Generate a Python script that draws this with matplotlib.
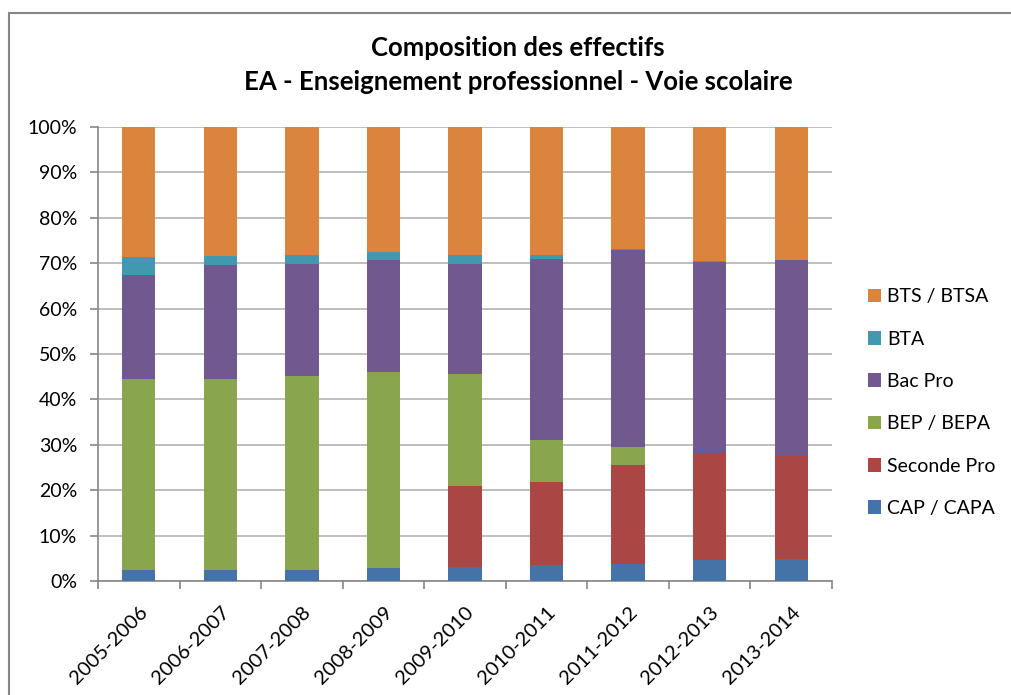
import matplotlib.pyplot as plt
import matplotlib.patches as mpatches
import numpy as np

plt.rcParams['font.family'] = ['Lato', 'DejaVu Sans']

annees = ['2005-2006', '2006-2007', '2007-2008', '2008-2009', '2009-2010',
          '2010-2011', '2011-2012', '2012-2013', '2013-2014']

# parts en % par filiere (de bas en haut)
cap_capa = [2.4, 2.4, 2.4, 2.9, 3.0, 3.5, 3.8, 4.6, 4.8]
seconde_pro = [0.0, 0.0, 0.0, 0.0, 18.0, 18.2, 21.8, 23.5, 23.0]
bep_bepa = [42.2, 42.2, 42.7, 43.1, 24.7, 9.3, 4.0, 0.0, 0.0]
bac_pro = [22.7, 25.0, 24.7, 24.6, 24.1, 39.9, 43.2, 42.2, 42.8]
bta = [4.0, 2.0, 2.0, 1.9, 2.0, 0.9, 0.3, 0.1, 0.0]
bts_btsa = [28.7, 28.4, 28.2, 27.5, 28.2, 28.2, 26.9, 29.6, 29.4]

series = [
    ('CAP / CAPA', cap_capa, '#4572A7'),
    ('Seconde Pro', seconde_pro, '#AA4643'),
    ('BEP / BEPA', bep_bepa, '#89A54E'),
    ('Bac Pro', bac_pro, '#71588F'),
    ('BTA', bta, '#4198AF'),
    ('BTS / BTSA', bts_btsa, '#DB843D'),
]

W, H = 1011, 695
fig = plt.figure(figsize=(W / 100, H / 100), dpi=100)

# cadre du graphique
fig.patches.append(mpatches.Rectangle((9 / W, -0.1), 1.2, 1 - 13 / H + 0.1,
                                      transform=fig.transFigure, fill=False,
                                      edgecolor='#868686', lw=1.5))

ax = fig.add_axes([98 / W, 1 - 581 / H, (832 - 98) / W, (581 - 127) / H])

x = np.arange(len(annees))
bottom = np.zeros(len(annees))
handles = []
for nom, vals, col in series:
    b = ax.bar(x, vals, 0.41, bottom=bottom, color=col, label=nom, zorder=3)
    handles.append(b)
    bottom += np.array(vals)

ax.set_xlim(-0.5, len(annees) - 0.5)
ax.set_ylim(0, 100)
ax.set_yticks(np.arange(0, 101, 10))
ax.set_yticklabels(['{}%'.format(v) for v in range(0, 101, 10)])
ax.yaxis.grid(True, color='#B3B3B3', lw=1.2, zorder=0)

# graduations entre les categories, etiquettes au centre
ax.set_xticks(np.arange(-0.5, len(annees), 1.0))
ax.set_xticklabels([])
ax.set_xticks(x, minor=True)
ax.set_xticklabels(annees, minor=True, rotation=45, ha='right',
                   rotation_mode='anchor')
ax.tick_params(axis='x', which='major', length=6, width=1.2, color='#868686')
ax.tick_params(axis='x', which='minor', length=0, pad=16, labelsize=14.5)
ax.tick_params(axis='y', length=6, width=1.2, color='#868686', pad=9,
               labelsize=14)

for s in ['top', 'right']:
    ax.spines[s].set_visible(False)
for s in ['left', 'bottom']:
    ax.spines[s].set_color('#868686')
    ax.spines[s].set_linewidth(1.2)

fig.text(518 / W, 1 - 48 / H, 'Composition des effectifs', ha='center',
         va='center', fontsize=18.5, fontweight='bold')
fig.text(518 / W, 1 - 82 / H, 'EA - Enseignement professionnel - Voie scolaire',
         ha='center', va='center', fontsize=18.5, fontweight='bold')

fig.legend(handles[::-1], [s[0] for s in series][::-1], loc='upper left',
           bbox_to_anchor=(850 / W, 1 - 271 / H), frameon=False, fontsize=14,
           handlelength=0.7, handleheight=0.7, handletextpad=0.3,
           labelspacing=1.3)

fig.savefig('out.png', dpi=100)
